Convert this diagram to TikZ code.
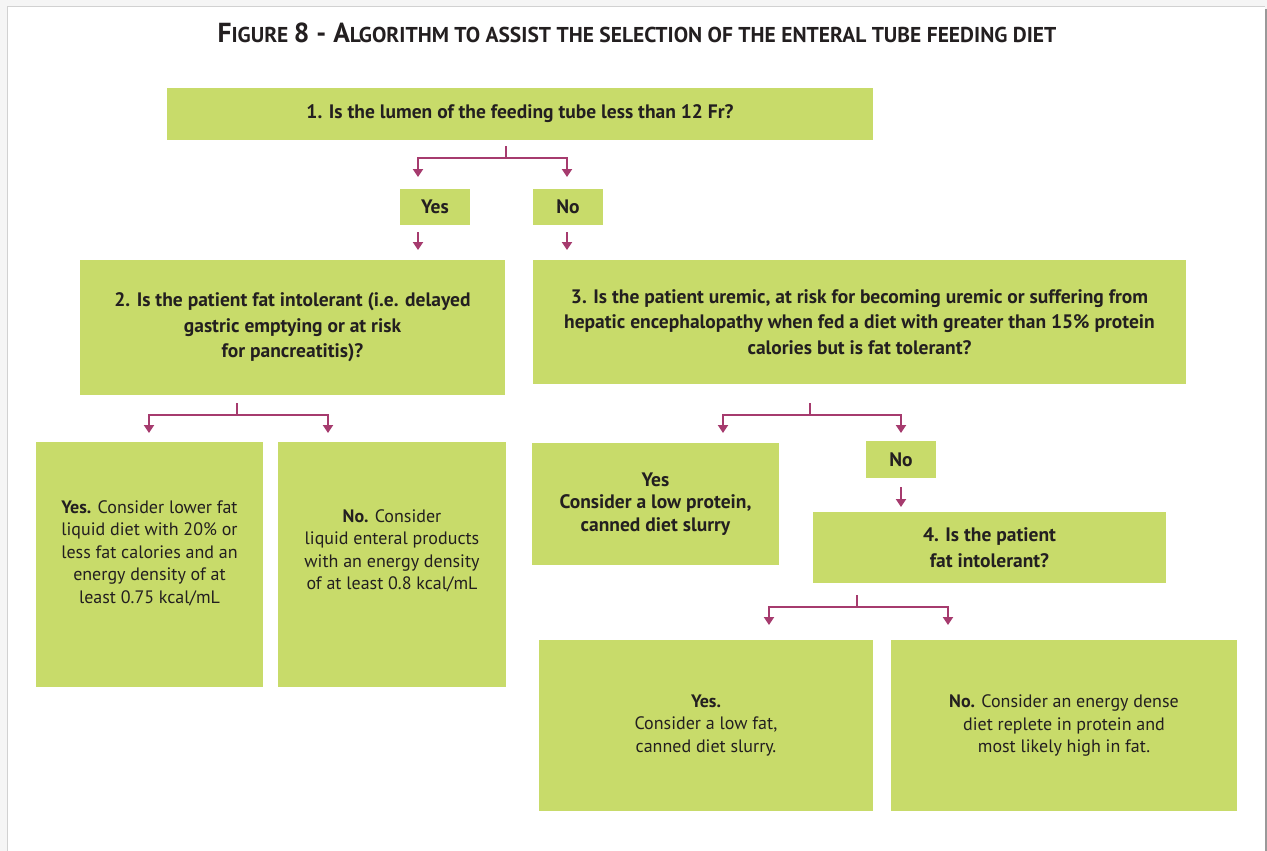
\documentclass[tikz,border=0pt]{standalone}
\usepackage{fontspec}
\setmainfont{PT Sans}
\usetikzlibrary{arrows.meta}

\definecolor{boxgreen}{HTML}{C8DB6A}
\definecolor{linkred}{HTML}{A63B6E}
\definecolor{inkgray}{HTML}{231F20}

\newcommand{\bigsc}[1]{{\fontsize{27.5}{27.5}\selectfont #1}}

\begin{document}
\begin{tikzpicture}[
  x = 1pt, y = -1pt,
  box/.style = {
    fill = boxgreen,
    inner sep = 0pt,
    align = center,
    text = inkgray,
    font = \fontsize{18}{22.5}\selectfont,
  },
  qbox/.style = {
    box,
    font = \bfseries\fontsize{19.5}{25.5}\selectfont,
  },
  boxtext/.style = {
    align = center,
    text = inkgray,
    font = \fontsize{18}{22.5}\selectfont,
  },
  link/.style = { draw = linkred, line width = 2pt },
  arr/.style = { link, -{Triangle[width = 10pt, length = 8pt]} },
]
  % page and frame
  \useasboundingbox (0, 0) rectangle (1267, 851);
  \fill[black!4] (0, 0) rectangle (1267, 851);
  \fill[white] (7, 7) rectangle (1265, 851);
  \draw[black!18, line width = 1pt] (7, 851) |- (1265, 7);
  \draw[black!40, line width = 2.5pt] (1266, 9) -- (1266, 851);

  \node[text = inkgray, font = \bfseries\fontsize{21.5}{21.5}\selectfont] (title) at (637, 33)
    {\bigsc{F}IGURE \bigsc{8 - A}LGORITHM TO ASSIST THE SELECTION OF THE ENTERAL TUBE FEEDING DIET};

  % questions and answers
  \node[qbox, minimum width = 706, minimum height = 52] (q1) at (520, 114)
    {1. Is the lumen of the feeding tube less than 12 Fr?};
  \node[qbox, minimum width = 70, minimum height = 36] (yes1) at (435, 207) {Yes};
  \node[qbox, minimum width = 70, minimum height = 36] (no1) at (568, 207) {No};

  \node[qbox, minimum width = 425, minimum height = 135] (q2) at (292.5, 327.5)
    {2. Is the patient fat intolerant (i.e. delayed\\gastric emptying or at risk\\for pancreatitis)?};
  \node[qbox, minimum width = 653, minimum height = 124] (q3) at (859.5, 322)
    {3. Is the patient uremic, at risk for becoming uremic or suffering from\\
     hepatic encephalopathy when fed a diet with greater than 15\% protein\\
     calories but is fat tolerant?};

  \node[box, minimum width = 227, minimum height = 245] (ansA) at (149.5, 564.5) {};
  \node[boxtext] (txtA) at (149.5, 553)
    {\textbf{Yes.} Consider lower fat\\liquid diet with 20\% or\\less fat calories and an\\energy density of at\\least 0.75 kcal/mL};
  \node[box, minimum width = 228, minimum height = 245] (ansB) at (392, 564.5) {};
  \node[boxtext] (txtB) at (392, 551)
    {\textbf{No.} Consider\\liquid enteral products\\with an energy density\\of at least 0.8 kcal/mL};

  \node[qbox, minimum width = 247, minimum height = 122,
        font = \bfseries\fontsize{19.5}{22.5}\selectfont] (ansC) at (655.5, 504)
    {Yes\\Consider a low protein,\\canned diet slurry};
  \node[qbox, minimum width = 70, minimum height = 37] (no2) at (901, 459.5) {No};
  \node[qbox, minimum width = 353, minimum height = 71] (q4) at (989.5, 547.5)
    {4. Is the patient\\fat intolerant?};

  \node[box, minimum width = 334, minimum height = 171] (ansD) at (706, 725.5)
    {\textbf{Yes.}\\Consider a low fat,\\canned diet slurry.};
  \node[box, minimum width = 346, minimum height = 171] (ansE) at (1064, 725.5)
    {\textbf{No.} Consider an energy dense\\diet replete in protein and\\most likely high in fat.};

  % branch points and arrow tips
  \coordinate (j1) at (506, 158);
  \coordinate (j2) at (237, 415);
  \coordinate (j3) at (810, 415);
  \coordinate (j4) at (857, 607);
  \coordinate (tipY1) at (418, 177);
  \coordinate (tipN1) at (567, 177);
  \coordinate (tipY2) at (418, 250);
  \coordinate (tipN2) at (567, 250);
  \coordinate (tipA) at (149, 433);
  \coordinate (tipB) at (328, 433);
  \coordinate (tipC) at (723, 433);
  \coordinate (tipNo) at (901, 433);
  \coordinate (tipQ4) at (901, 507);
  \coordinate (tipD) at (769, 625);
  \coordinate (tipE) at (948, 625);

  \draw[link] (q1.south -| j1) ++(0, 6) -- (j1);
  \draw[arr] (j1) -| (tipY1);
  \draw[arr] (j1) -| (tipN1);
  \draw[arr] (yes1.south -| tipY2) ++(0, 7) -- (tipY2);
  \draw[arr] (no1.south -| tipN2) ++(0, 7) -- (tipN2);

  \draw[link] (q2.south -| j2) ++(0, 8) -- (j2);
  \draw[arr] (j2) -| (tipA);
  \draw[arr] (j2) -| (tipB);

  \draw[link] (q3.south -| j3) ++(0, 19) -- (j3);
  \draw[arr] (j3) -| (tipC);
  \draw[arr] (j3) -| (tipNo);
  \draw[arr] (no2.south -| tipQ4) ++(0, 9) -- (tipQ4);

  \draw[link] (q4.south -| j4) ++(0, 12) -- (j4);
  \draw[arr] (j4) -| (tipD);
  \draw[arr] (j4) -| (tipE);
\end{tikzpicture}
\end{document}
